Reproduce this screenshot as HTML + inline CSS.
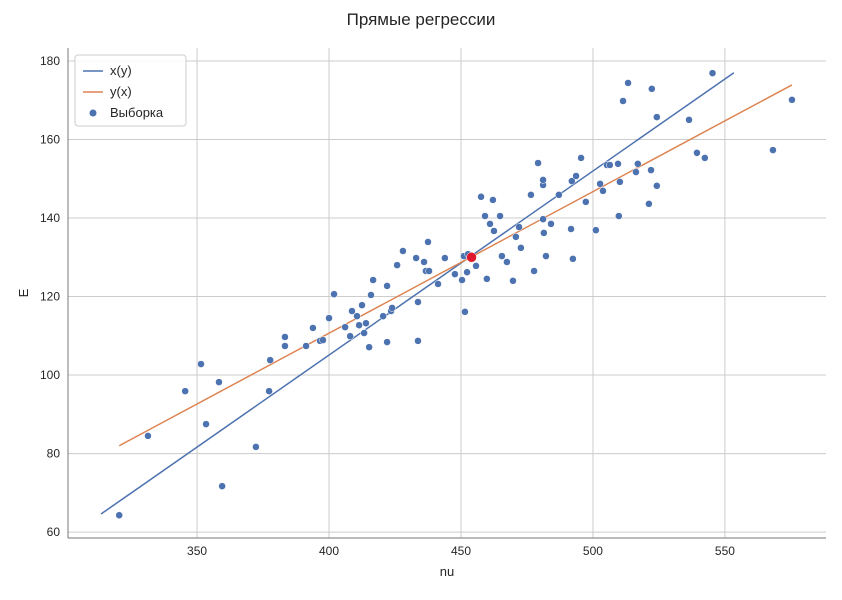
<!DOCTYPE html>
<html><head><meta charset="utf-8">
<style>
body{margin:0;background:#fff;font-family:"Liberation Sans","DejaVu Sans",sans-serif;}
svg text{font-family:"Liberation Sans","DejaVu Sans",sans-serif;fill:#262626;}
</style></head>
<body>
<svg id="chart" width="842" height="595"></svg>
<script>
const xs=[320.5,331.4,345.5,351.5,353.4,358.3,359.5,372.3,377.3,377.7,383.3,383.3,391.3,393.9,396.6,397.7,400.0,401.9,406.1,408.0,408.7,410.6,411.4,412.5,413.3,414.0,415.2,415.9,416.7,420.5,422.0,422.0,423.5,423.9,425.8,428.0,433.0,433.7,433.7,436.0,436.7,437.5,437.9,441.3,443.9,447.7,450.4,451.1,451.5,452.3,452.7,455.7,457.6,459.1,459.8,461.0,462.1,462.5,464.8,465.5,467.4,469.7,470.8,472.0,472.7,476.5,477.7,479.2,481.1,481.1,481.1,481.4,482.2,484.1,487.1,491.7,492.0,492.4,493.6,495.5,497.3,501.1,502.7,503.8,505.3,506.4,509.5,509.8,510.2,511.4,513.3,516.3,517.0,521.2,522.0,522.3,524.2,524.2,536.4,539.4,542.4,545.3,568.2,575.4];
const ys=[64.3,84.5,95.9,102.8,87.5,98.2,71.7,81.7,95.9,103.8,109.7,107.4,107.4,112.0,108.7,108.9,114.5,120.6,112.2,109.9,116.3,115.0,112.7,117.8,110.7,113.2,107.1,120.4,124.2,115.0,108.4,122.7,116.3,117.1,128.0,131.6,129.8,118.6,108.7,128.8,126.5,133.9,126.5,123.2,129.8,125.7,124.2,130.3,116.1,126.2,130.8,127.8,145.4,140.5,124.5,138.5,144.6,136.7,140.5,130.3,128.8,124.0,135.2,137.7,132.4,145.9,126.5,154.0,148.4,149.7,139.7,136.2,130.3,138.5,145.9,137.2,149.4,129.6,150.7,155.3,144.1,136.9,148.7,146.9,153.5,153.5,153.8,140.5,149.2,169.8,174.4,151.7,153.8,143.6,152.2,172.9,165.7,148.2,165.0,156.6,155.3,176.9,157.3,170.1];
const xyLineX=[313.6,553.4];
const xyLineY=[64.6,177.0];
const yxLineX=[320.5,575.4];
const yxLineY=[82.0,173.9];
const meanPoint=[454.0,130.0];
const xTicks=[350,400,450,500,550];
const yTicks=[60,80,100,120,140,160,180];
const L=68,R=826,T=48,B=538,xmin=301.1,xmax=588.3,ymin=58.5,ymax=183.3;
const X=v=>L+(v-xmin)/(xmax-xmin)*(R-L);
const Y=v=>B-(v-ymin)/(ymax-ymin)*(B-T);
const svg=document.getElementById('chart');
const NS='http://www.w3.org/2000/svg';
function mk(t,a,p){const e=document.createElementNS(NS,t);for(const k in a)e.setAttribute(k,a[k]);(p||svg).appendChild(e);return e;}
let e;
e=mk('text',{x:421,y:25,'text-anchor':'middle','font-size':17});e.textContent='Прямые регрессии';


xTicks.forEach(t=>{
  e=mk('line',{x1:X(t),x2:X(t),y1:T,y2:B,stroke:'#cccccc','stroke-width':1});
  
  
  e=mk('text',{x:X(t),y:B+17,'text-anchor':'middle','font-size':12});e.textContent=t;
  
  
});
yTicks.forEach(t=>{
  e=mk('line',{x1:L,x2:R,y1:Y(t),y2:Y(t),stroke:'#cccccc','stroke-width':1});
  
  
  e=mk('text',{x:L-8,y:Y(t)+4,'text-anchor':'end','font-size':12});e.textContent=t;
  
  
});
e=mk('line',{x1:L,x2:L,y1:T,y2:B,stroke:'#777','stroke-width':1});


e=mk('line',{x1:L,x2:R,y1:B,y2:B,stroke:'#777','stroke-width':1});


e=mk('text',{x:(L+R)/2,y:576,'text-anchor':'middle','font-size':13});e.textContent='nu';


e=mk('text',{x:28,y:(T+B)/2,'text-anchor':'middle','font-size':13,transform:`rotate(-90 28 ${(T+B)/2})`});e.textContent='E';


e=mk('line',{x1:X(xyLineX[0]),y1:Y(xyLineY[0]),x2:X(xyLineX[1]),y2:Y(xyLineY[1]),stroke:'#4c72b0','stroke-width':1.5});


e=mk('line',{x1:X(yxLineX[0]),y1:Y(yxLineY[0]),x2:X(yxLineX[1]),y2:Y(yxLineY[1]),stroke:'#dd8452','stroke-width':1.5});


for(let i=0;i<xs.length;i++){
  e=mk('circle',{cx:X(xs[i]),cy:Y(ys[i]),r:3.5,fill:'#4c72b0',stroke:'#fff','stroke-width':0.5});
  
  
}
e=mk('circle',{cx:X(meanPoint[0]),cy:Y(meanPoint[1]),r:5,fill:'#e0182d',stroke:'#fff','stroke-width':0.5});


const g=mk('g',{});


mk('rect',{x:75,y:55,width:111,height:71,rx:3,fill:'#fff','fill-opacity':0.85,stroke:'#ccc'},g);
mk('line',{x1:83,x2:103,y1:71,y2:71,stroke:'#4c72b0','stroke-width':1.5},g);
e=mk('text',{x:110,y:75,'font-size':13},g);e.textContent='x(y)';


mk('line',{x1:83,x2:103,y1:92,y2:92,stroke:'#dd8452','stroke-width':1.5},g);
e=mk('text',{x:110,y:96,'font-size':13},g);e.textContent='y(x)';


mk('circle',{cx:93,cy:113,r:3.5,fill:'#4c72b0'},g);
e=mk('text',{x:110,y:117,'font-size':13},g);e.textContent='Выборка';


</script>
</body></html>
